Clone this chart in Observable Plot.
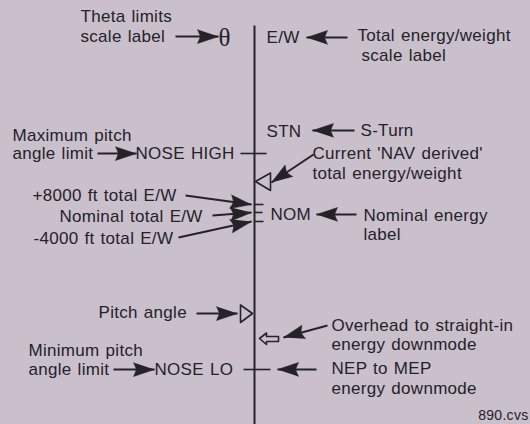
<!DOCTYPE html>
<html><head><meta charset="utf-8">
<script src="https://cdn.jsdelivr.net/npm/d3@7"></script>
<script src="https://cdn.jsdelivr.net/npm/@observablehq/plot@0.6"></script>
<style>html,body{margin:0;padding:0;background:#c9c0cc;overflow:hidden}</style>
</head><body><div id="chart"></div>
<script>
// Annotation texts: [label, x, y]
const leftNotes = [
  ["Theta limits", 80, 16],
  ["scale label", 80, 36],
  ["Maximum pitch", 12, 135],
  ["angle limit", 12, 153],
  ["+8000 ft total E/W", 32, 195],
  ["Nominal total E/W", 59, 216],
  ["-4000 ft total E/W", 33, 238],
  ["Pitch angle", 98, 312],
  ["Minimum pitch", 28, 350],
  ["angle limit", 28, 369]
];
const scaleMarks = [
  ["E/W", 266, 37], ["STN", 266, 131], ["NOSE HIGH", 135, 153],
  ["NOM", 270, 214], ["NOSE LO", 154, 369]
];
const rightNotes = [
  ["Total energy/weight", 357, 35], ["scale label", 361, 55],
  ["S-Turn", 360, 130],
  ["Current 'NAV derived'", 312, 153], ["total energy/weight", 312, 173],
  ["Nominal energy", 363, 215], ["label", 363, 234],
  ["Overhead to straight-in", 331, 325], ["energy downmode", 331, 344],
  ["NEP to MEP", 331, 368], ["energy downmode", 331, 388]
];
const thetaLabel = [["θ", 218, 37]];
const figureId = [["890.cvs", 528, 415]];

// Pointer arrows: [x1, y1, x2 (tip), y2 (tip)]
const pointers = [
  [175, 36, 218, 36],
  [347, 37, 306, 37],
  [354, 130, 312, 130],
  [97, 153, 136, 153],
  [313, 154, 271, 182],
  [185, 195, 251, 204],
  [212, 215, 251, 212],
  [178, 237, 251, 221],
  [356, 214, 316, 214],
  [196, 313, 237, 313],
  [327, 325, 283, 337],
  [113, 369, 154, 369],
  [316, 369, 277, 369]
];
// Scale line and ticks: [x1, y1, x2, y2]
const scaleLine = [[254, 25, 254, 424]];
const ticks = [
  [240, 153, 266, 153],
  [243, 369, 270, 369],
  [254, 204, 263, 204],
  [254, 212, 262, 212],
  [254, 221, 263, 221]
];
// Hollow markers: [name, points]
const markers = [
  ["energy", [[255, 181], [270, 172.5], [270, 190], [255, 181]]],
  ["pitch", [[252, 313], [240, 304.5], [240, 322], [252, 313]]],
  ["downmode", [[259, 338], [266, 332.5], [266, 336], [278, 336], [278, 341], [266, 341], [266, 344], [259, 338]]]
];

const ink = "#252228";
const heads = [];
pointers.forEach(([x1, y1, x2, y2], i) => {
  const dx = x2 - x1, dy = y2 - y1, d = Math.hypot(dx, dy);
  const ux = dx / d, uy = dy / d, L = 21, W = 7;
  const bx = x2 - ux * L, by = y2 - uy * L;
  const mx = x2 - ux * (L - 3), my = y2 - uy * (L - 3);
  heads.push({id: i, x: x2, y: y2});
  heads.push({id: i, x: bx - uy * W, y: by + ux * W});
  heads.push({id: i, x: mx, y: my});
  heads.push({id: i, x: bx + uy * W, y: by - ux * W});
});
const markerPts = markers.flatMap(([name, pts]) => pts.map(([x, y]) => ({name, x, y})));
const seg = a => a.map(([x1, y1, x2, y2]) => ({x1, y1, x2, y2}));
const txt = a => a.map(([t, x, y]) => ({t, x, y}));

const font = "Liberation Sans, Arial, Helvetica, sans-serif";
const chart = Plot.plot({
  width: 530, height: 424, margin: 0,
  x: {domain: [0, 530], range: [0, 530], axis: null},
  y: {domain: [0, 424], range: [0, 424], axis: null},
  style: {background: "#c9c0cc", fontFamily: font, letterSpacing: "0.3px", wordSpacing: "1px"},
  marks: [
    Plot.link(seg(scaleLine), {x1: "x1", y1: "y1", x2: "x2", y2: "y2", stroke: ink, strokeWidth: 2}),
    Plot.link(seg(ticks), {x1: "x1", y1: "y1", x2: "x2", y2: "y2", stroke: ink, strokeWidth: 1.6}),
    Plot.link(seg(pointers), {x1: "x1", y1: "y1", x2: "x2", y2: "y2", stroke: ink, strokeWidth: 2}),
    Plot.line(heads, {x: "x", y: "y", z: "id", fill: ink, stroke: ink, strokeWidth: 0.5}),
    Plot.line(markerPts, {x: "x", y: "y", z: "name", stroke: ink, strokeWidth: 1.6, fill: "none"}),
    Plot.text(txt([...leftNotes, ...scaleMarks, ...rightNotes]), {x: "x", y: "y", text: "t", textAnchor: "start", lineAnchor: "middle", fontSize: 17, fill: ink, fontFamily: font}),
    Plot.text(txt(thetaLabel), {x: "x", y: "y", text: "t", textAnchor: "start", lineAnchor: "middle", fontSize: 25, fill: ink, fontFamily: "Liberation Serif, serif"}),
    Plot.text(txt(figureId), {x: "x", y: "y", text: "t", textAnchor: "end", lineAnchor: "middle", fontSize: 14, fill: ink, fontFamily: font})
  ]
});
document.getElementById("chart").appendChild(chart);
</script>
</body></html>
